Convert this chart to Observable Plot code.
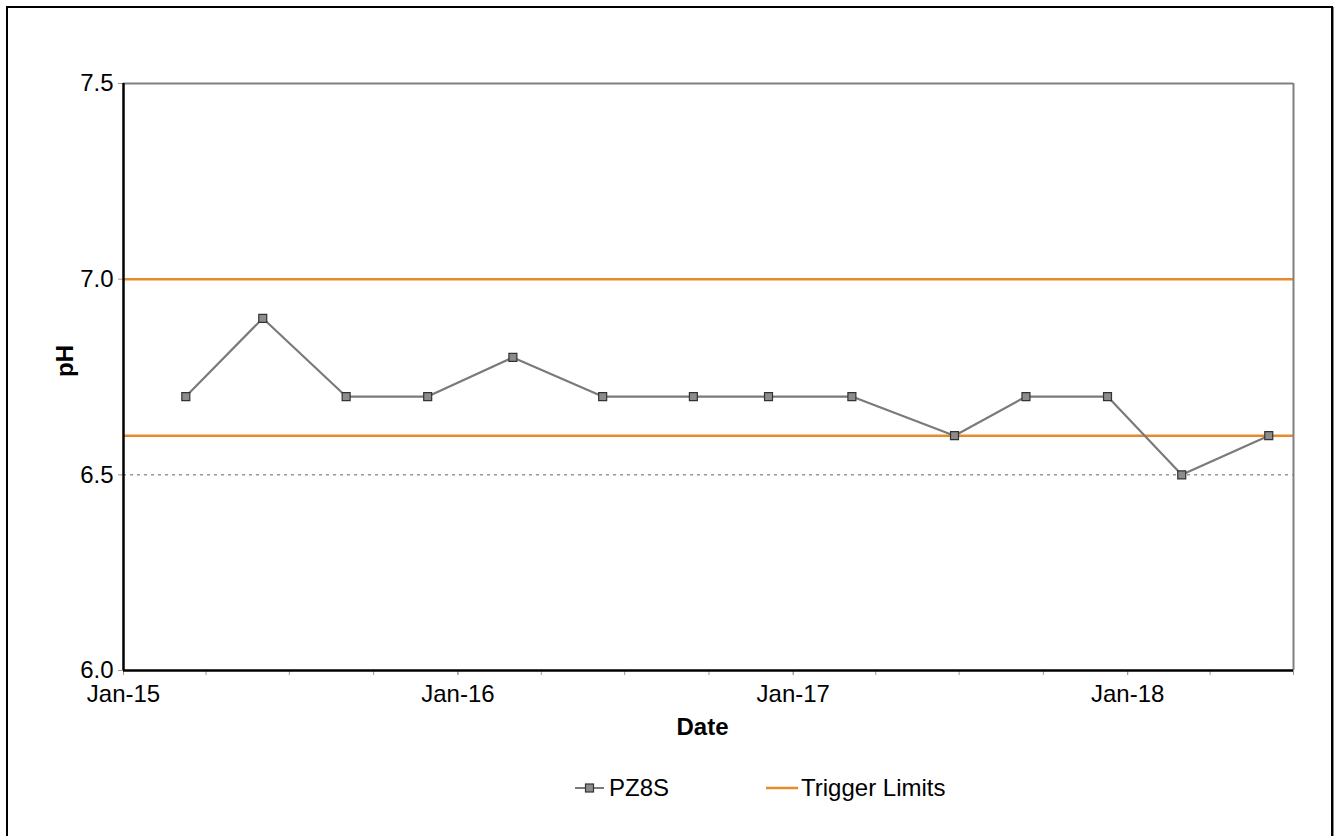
<!DOCTYPE html>
<html>
<head>
<meta charset="utf-8">
<script src="https://cdn.jsdelivr.net/npm/d3@7"></script>
<script src="https://cdn.jsdelivr.net/npm/@observablehq/plot@0.6"></script>
<style>
  html, body { margin: 0; padding: 0; background: #fff; }
  body { width: 1337px; height: 836px; position: relative; overflow: hidden; font-family: "Liberation Sans", Arial, sans-serif; }
  #border { position: absolute; left: 6px; top: 6px; width: 1323px; height: 860px; border: 2px solid #000; box-shadow: 1px 1px 0 #888; pointer-events: none; }
  #chart { position: absolute; left: 0; top: 0; }
  .leg { position: absolute; font-size: 24px; color: #000; line-height: 24px; white-space: nowrap; }
</style>
</head>
<body>
<div id="chart"></div>
<div id="legend"></div>
<div id="border"></div>
<script>
// ---- data ----
const sampleDates = ["2015-03-10", "2015-06-02", "2015-09-01", "2015-11-29", "2016-03-01", "2016-06-07", "2016-09-14", "2016-12-05", "2017-03-06", "2017-06-26", "2017-09-12", "2017-12-10", "2018-03-01", "2018-06-04"];
const phValues = [6.7, 6.9, 6.7, 6.7, 6.8, 6.7, 6.7, 6.7, 6.7, 6.6, 6.7, 6.7, 6.5, 6.6];
const triggerLimits = [7.0, 6.6];
const referenceLine = [6.5];
const xDomain = ["2015-01-01", "2018-07-01"];
const yDomain = [6.0, 7.5];
const yTicks = [6.0, 6.5, 7.0, 7.5];
const xMajorTicks = ["2015-01-01", "2016-01-01", "2017-01-01", "2018-01-01"];
const seriesName = "PZ8S";
const limitName = "Trigger Limits";

const parse = d3.utcParse("%Y-%m-%d");
const data = sampleDates.map((d, i) => ({date: parse(d), ph: phValues[i]}));
const xd = xDomain.map(parse);
const fmt = d3.utcFormat("%b-%y");

const chart = Plot.plot({
  width: 1337,
  height: 760,
  marginLeft: 123,
  marginRight: 44,
  marginTop: 83,
  marginBottom: 90,
  style: {fontSize: "24px", fontFamily: "Liberation Sans, Arial, sans-serif", color: "#000", background: "transparent", overflow: "visible"},
  x: {type: "utc", domain: xd},
  y: {domain: yDomain},
  marks: [
    Plot.ruleY(referenceLine, {stroke: "#999", strokeWidth: 1.5, strokeDasharray: "3,4"}),
    Plot.ruleY(triggerLimits, {stroke: "#e8892b", strokeWidth: 2.5}),
    Plot.ruleY([yDomain[1]], {stroke: "#808080", strokeWidth: 2}),
    Plot.ruleX([xd[1]], {stroke: "#808080", strokeWidth: 2}),
    Plot.axisX({ticks: d3.utcMonth.every(3), tickFormat: () => "", tickSize: 5, stroke: "#999", label: null}),
    Plot.axisX({ticks: xMajorTicks.map(parse), tickFormat: fmt, tickSize: 5, tickPadding: 9, stroke: "#999", label: null}),
    Plot.axisY({ticks: yTicks, tickFormat: d3.format(".1f"), tickSize: 5, tickPadding: 5, stroke: "#999", label: null}),
    Plot.ruleY([yDomain[0]], {stroke: "#000", strokeWidth: 2.5}),
    Plot.ruleX([xd[0]], {stroke: "#000", strokeWidth: 2.5}),
    Plot.line(data, {x: "date", y: "ph", stroke: "#7a7a7a", strokeWidth: 2.2}),
    Plot.dot(data, {x: "date", y: "ph", symbol: "square", r: 4.5, fill: "#8c8c8c", stroke: "#333", strokeWidth: 1.2}),
    Plot.text(["Date"], {frameAnchor: "bottom", dx: -6, dy: 64, fontWeight: "bold", fontSize: 24, fill: "#000"}),
    Plot.text(["pH"], {frameAnchor: "left", dx: -58, rotate: -90, fontWeight: "bold", fontSize: 24, fill: "#000"})
  ]
});
document.getElementById("chart").appendChild(chart);

// ---- legend ----
const legend = document.getElementById("legend");
legend.innerHTML = `
  <svg class="leg" style="left:573px;top:781px" width="34" height="14">
    <line x1="2" y1="7" x2="31" y2="7" stroke="#7a7a7a" stroke-width="2"/>
    <rect x="12.5" y="3" width="8" height="8" fill="#8c8c8c" stroke="#333" stroke-width="1.2"/>
  </svg>
  <div class="leg" style="left:609px;top:776px">${seriesName}</div>
  <svg class="leg" style="left:764px;top:781px" width="36" height="14">
    <line x1="2" y1="7" x2="34" y2="7" stroke="#e8892b" stroke-width="2.5"/>
  </svg>
  <div class="leg" style="left:801px;top:776px">${limitName}</div>
`;
</script>
</body>
</html>
